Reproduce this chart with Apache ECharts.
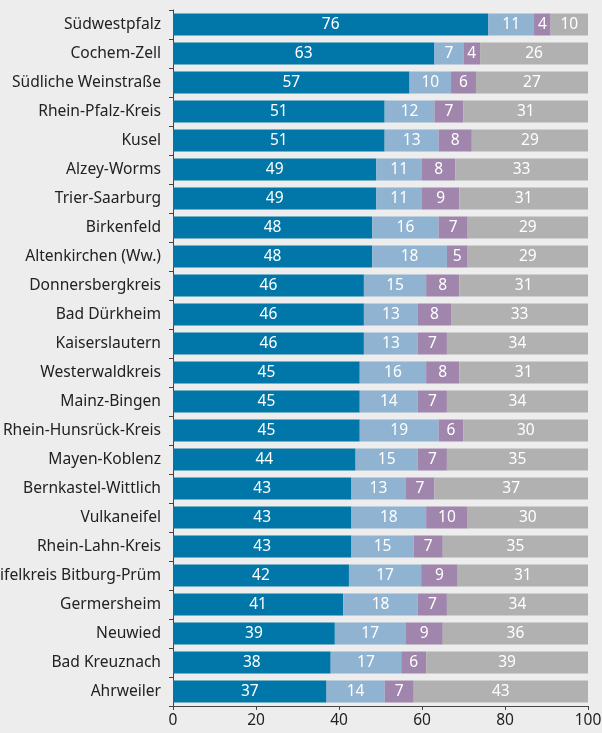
<!DOCTYPE html>
<html>
<head>
<meta charset="utf-8">
<script src="https://cdn.jsdelivr.net/npm/echarts@6/dist/echarts.min.js"></script>
<style>
  html, body { margin: 0; padding: 0; background: #ededed; }
  #chart { width: 602px; height: 733px; }
</style>
</head>
<body>
<div id="chart"></div>
<script>
// Kreise, von oben nach unten
const categories = [
  "Südwestpfalz", "Cochem-Zell", "Südliche Weinstraße", "Rhein-Pfalz-Kreis",
  "Kusel", "Alzey-Worms", "Trier-Saarburg", "Birkenfeld",
  "Altenkirchen (Ww.)", "Donnersbergkreis", "Bad Dürkheim", "Kaiserslautern",
  "Westerwaldkreis", "Mainz-Bingen", "Rhein-Hunsrück-Kreis", "Mayen-Koblenz",
  "Bernkastel-Wittlich", "Vulkaneifel", "Rhein-Lahn-Kreis", "Eifelkreis Bitburg-Prüm",
  "Germersheim", "Neuwied", "Bad Kreuznach", "Ahrweiler"
];
const seriesA = [76, 63, 57, 51, 51, 49, 49, 48, 48, 46, 46, 46, 45, 45, 45, 44, 43, 43, 43, 42.4, 41, 39, 38, 37];
const seriesB = [11, 7, 10, 12, 13, 11, 11, 16, 18, 15, 13, 13, 16, 14, 19, 15, 13, 18, 15, 17.4, 18, 17, 17, 14];
const seriesC = [4, 4, 6, 7, 8, 8, 9, 7, 5, 8, 8, 7, 8, 7, 6, 7, 7, 10, 7, 8.8, 7, 9, 6, 7];
const seriesD = [10, 26, 27, 31, 29, 33, 31, 29, 29, 31, 33, 34, 31, 34, 30, 35, 37, 30, 35, 31.4, 34, 36, 39, 43];
const xTicks = [0, 20, 40, 60, 80, 100];

const colors = ["#0077a8", "#8fb3d0", "#a085ad", "#b1b1b2"];
const font = "'Noto Sans', 'Open Sans', sans-serif";

const chart = echarts.init(document.getElementById("chart"));

function makeSeries(name, data, color) {
  return {
    name: name,
    type: "bar",
    stack: "all",
    barWidth: 22,
    data: data,
    itemStyle: { color: color },
    label: {
      show: true,
      position: "inside",
      color: "#fff",
      fontSize: 15.5,
      fontFamily: font,
      formatter: p => Math.round(p.value)
    }
  };
}

chart.setOption({
  backgroundColor: "#ededed",
  animation: false,
  grid: { left: 173, right: 14, top: 10, bottom: 27, containLabel: false, outerBoundsMode: "none" },
  xAxis: {
    type: "value",
    min: xTicks[0],
    max: xTicks[xTicks.length - 1],
    interval: 20,
    splitLine: { show: false },
    axisLine: { show: true, lineStyle: { color: "#444", width: 1 } },
    axisTick: { show: true, length: 4, lineStyle: { color: "#444" } },
    axisLabel: { color: "#222", fontSize: 15.5, fontFamily: font, margin: 7 }
  },
  yAxis: {
    type: "category",
    inverse: true,
    data: categories,
    axisLine: { show: true, lineStyle: { color: "#444", width: 1 } },
    axisTick: { show: true, length: 4, lineStyle: { color: "#444" } },
    axisLabel: { color: "#222", fontSize: 15.6, fontFamily: font, margin: 12 }
  },
  series: [
    makeSeries("a", seriesA, colors[0]),
    makeSeries("b", seriesB, colors[1]),
    makeSeries("c", seriesC, colors[2]),
    makeSeries("d", seriesD, colors[3])
  ]
});
</script>
</body>
</html>
